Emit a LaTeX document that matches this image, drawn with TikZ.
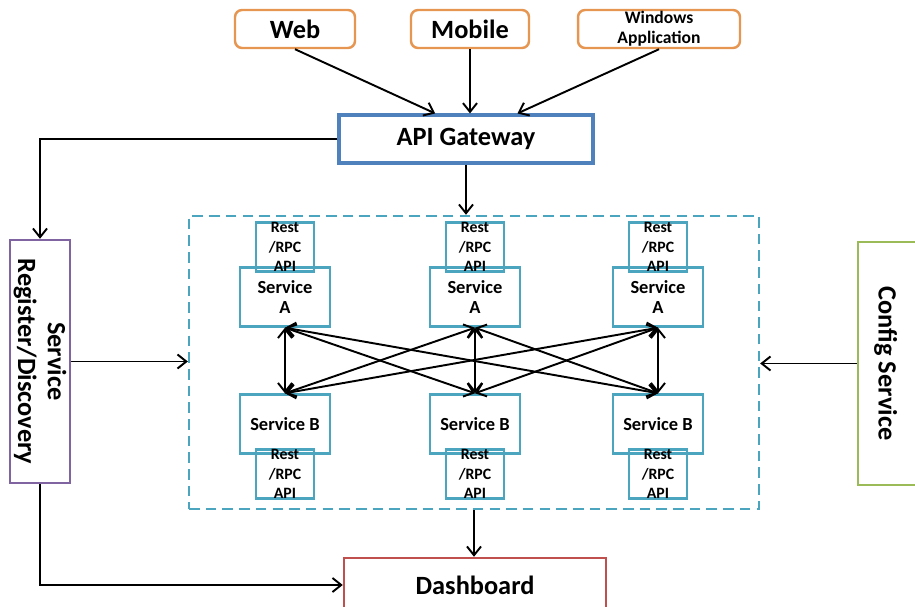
\documentclass[tikz,border=0pt]{standalone}
\usepackage{fontspec}
\setmainfont{Carlito}
\usepackage{tikz}
\usetikzlibrary{arrows.meta,calc,positioning}
\definecolor{clientorange}{RGB}{230,150,80}
\definecolor{gwblue}{RGB}{79,129,189}
\definecolor{svcteal}{RGB}{75,165,190}
\definecolor{srpurple}{RGB}{128,100,162}
\definecolor{cfggreen}{RGB}{155,187,89}
\definecolor{dashred}{RGB}{192,80,77}
\def\svca#1#2{\node[svcbox] (sa#1) at (#2,297) {Service\\A}; \node[restbox] (ra#1) at (#2,247) {Rest\\/RPC\\API}}
\def\svcb#1#2{\node[svcbox] (sb#1) at (#2,424) {Service B}; \node[restbox] (rb#1) at (#2,474) {Rest\\/RPC\\API}}
\tikzstyle{box}=[draw,line width=1.4pt,align=center,inner sep=0pt,font=\bfseries\fontsize{15}{17}\selectfont]
\tikzstyle{client}=[box,draw=clientorange,rounded corners=4pt,minimum height=0.76cm]
\tikzstyle{side}=[box,rotate=-90,minimum width=4.86cm,minimum height=1.2cm]
\tikzstyle{svcbox}=[box,draw=svcteal,minimum width=1.8cm,minimum height=1.18cm,font=\bfseries\fontsize{10.5}{11.5}\selectfont]
\tikzstyle{restbox}=[box,draw=svcteal,minimum width=1.16cm,minimum height=0.8cm,font=\bfseries\fontsize{9}{11}\selectfont]
\tikzstyle{link}=[line width=1.1pt]

\begin{document}
\begin{tikzpicture}[x=0.02cm,y=-0.02cm,>={Straight Barb[length=5pt,width=8pt]}]
  \useasboundingbox (0,0) rectangle (915,607);
  \clip (0,0) rectangle (915,607);
  \node[client,minimum width=2.4cm] (web) at (295,29) {Web};
  \node[client,minimum width=2.36cm] (mobile) at (470,29) {Mobile};
  \node[client,minimum width=3.24cm,font=\bfseries\fontsize{10}{11.5}\selectfont] (winapp) at (659,29) {Windows\\Application};
  \node[box,draw=gwblue,line width=1.8pt,minimum width=5.08cm,minimum height=0.96cm] (gw) at (466,139) {API Gateway};
  \node[draw=svcteal,line width=1.4pt,dash pattern=on 6pt off 3.5pt,minimum width=11.4cm,minimum height=5.86cm] (svc) at (474,362.5) {};
  \node[side,draw=srpurple] (sr) at (40,361.5) {Service\\Register/Discovery};
  \node[side,draw=cfggreen,minimum height=1.44cm,text height=20pt] (cfg) at (894,363.5) {Config Service};
  \node[box,draw=dashred,minimum width=5.24cm,minimum height=1.08cm] (dash) at (475,585) {Dashboard};
  \svca{1}{285}; \svca{2}{475}; \svca{3}{658};
  \svcb{1}{285}; \svcb{2}{475}; \svcb{3}{658};

  \draw[link,->] (web.south) -- ($(gw.north west)!0.38!(gw.north east)$);
  \draw[link,->] (mobile.south) -- (mobile.south |- gw.north);
  \draw[link,->] (winapp.south) -- ($(gw.north west)!0.7!(gw.north east)$);
  \draw[link,->] (gw.south) -- (gw.south |- svc.north);
  \draw[link,->] (gw.west) -| (sr.west);
  \draw[link,->] (sr.north) -- (sr.north -| svc.west);
  \draw[link,->] (cfg.south) -- (cfg.south -| svc.east);
  \draw[link,->] (svc.south) -- (svc.south |- dash.north);
  \draw[link,->] (sr.east) |- (dash.west);

  \draw[link,<->] (sa1.south) -- (sb1.north);
  \draw[link,<->] (sa1.south) -- (sb2.north);
  \draw[link,<->] (sa1.south) -- (sb3.north);
  \draw[link,<->] (sa2.south) -- (sb1.north);
  \draw[link,<->] (sa2.south) -- (sb2.north);
  \draw[link,<->] (sa2.south) -- (sb3.north);
  \draw[link,<->] (sa3.south) -- (sb1.north);
  \draw[link,<->] (sa3.south) -- (sb2.north);
  \draw[link,<->] (sa3.south) -- (sb3.north);
\end{tikzpicture}
\end{document}
